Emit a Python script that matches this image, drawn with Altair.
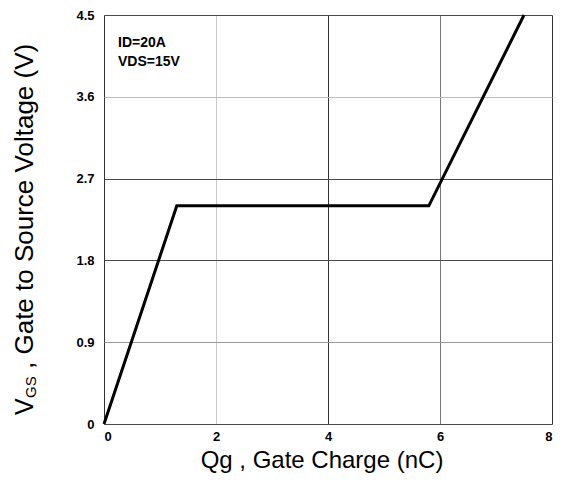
import altair as alt
import pandas as pd

qg = [0, 1.3, 5.8, 7.5]
vgs = [0, 2.4, 2.4, 4.5]
x_ticks = [0, 2, 4, 6, 8]
y_ticks = [0, 0.9, 1.8, 2.7, 3.6, 4.5]
notes = ["ID=20A", "VDS=15V"]
x_title = "Qg , Gate Charge (nC)"
y_title_parts = ["V", "GS", ", Gate to Source Voltage (V)"]

FONT = "Liberation Sans"

df = pd.DataFrame({"qg": qg, "vgs": vgs})

x_grid = {"condition": [
    {"test": "datum.value == 2", "value": "#c8c8c8"},
    {"test": "datum.value == 6", "value": "#777777"}],
    "value": "#333333"}
y_grid = {"condition": [
    {"test": "datum.value == 3.6", "value": "#bbbbbb"},
    {"test": "datum.value == 0.9", "value": "#999999"}],
    "value": "#4a4a4a"}

line = alt.Chart(df).mark_line(color="black", strokeWidth=3).encode(
    x=alt.X("qg:Q", scale=alt.Scale(domain=[0, 8], nice=False),
            axis=alt.Axis(values=x_ticks, title=None, ticks=False, domain=False,
                          gridColor=x_grid, gridOpacity=1, gridWidth=1,
                          labelFont=FONT, labelFontWeight="bold", labelFontSize=13,
                          labelColor="black", labelPadding=6, format="d")),
    y=alt.Y("vgs:Q", scale=alt.Scale(domain=[0, 4.5], nice=False, zero=True),
            axis=alt.Axis(values=y_ticks, title=None, ticks=False, domain=False,
                          gridColor=y_grid, gridOpacity=1, gridWidth=1,
                          labelFont=FONT, labelFontWeight="bold", labelFontSize=13,
                          labelColor="black", labelPadding=10, format=".1~f")),
)

ndf = pd.DataFrame({"t": notes, "i": list(range(len(notes)))})
note_text = alt.Chart(ndf).mark_text(
    align="left", baseline="alphabetic", font=FONT, fontWeight="bold",
    fontSize=14, color="black").encode(
    x=alt.value(14),
    y=alt.Y("i:Q", axis=None, scale=alt.Scale(domain=[0, 1], range=[32, 51])),
    text="t:N")

xt = alt.Chart(pd.DataFrame({"t": [x_title]})).mark_text(
    align="center", baseline="alphabetic", font=FONT, fontSize=24,
    color="black").encode(x=alt.value(218), y=alt.value(453), text="t:N")

yt_v = alt.Chart(pd.DataFrame({"t": [y_title_parts[0]]})).mark_text(
    align="left", baseline="alphabetic", angle=270, font=FONT, fontSize=25,
    color="black").encode(x=alt.value(-71), y=alt.value(400), text="t:N")
yt_gs = alt.Chart(pd.DataFrame({"t": [y_title_parts[1]]})).mark_text(
    align="left", baseline="alphabetic", angle=270, font=FONT, fontSize=15,
    color="black").encode(x=alt.value(-68), y=alt.value(383), text="t:N")
yt_rest = alt.Chart(pd.DataFrame({"t": [y_title_parts[2]]})).mark_text(
    align="left", baseline="alphabetic", angle=270, font=FONT, fontSize=26,
    color="black").encode(x=alt.value(-71), y=alt.value(354), text="t:N")

chart = alt.layer(line, note_text, xt, yt_v, yt_gs, yt_rest).resolve_scale(
    y="independent").properties(
    width=448, height=409,
    autosize=alt.AutoSizeParams(type="none"),
    padding={"left": 96, "top": 7, "right": 4, "bottom": 50},
).configure_view(stroke="#222222", strokeWidth=1.2).configure(background="white")

chart.save("out.html", embed_options={"renderer": "svg", "actions": False})
